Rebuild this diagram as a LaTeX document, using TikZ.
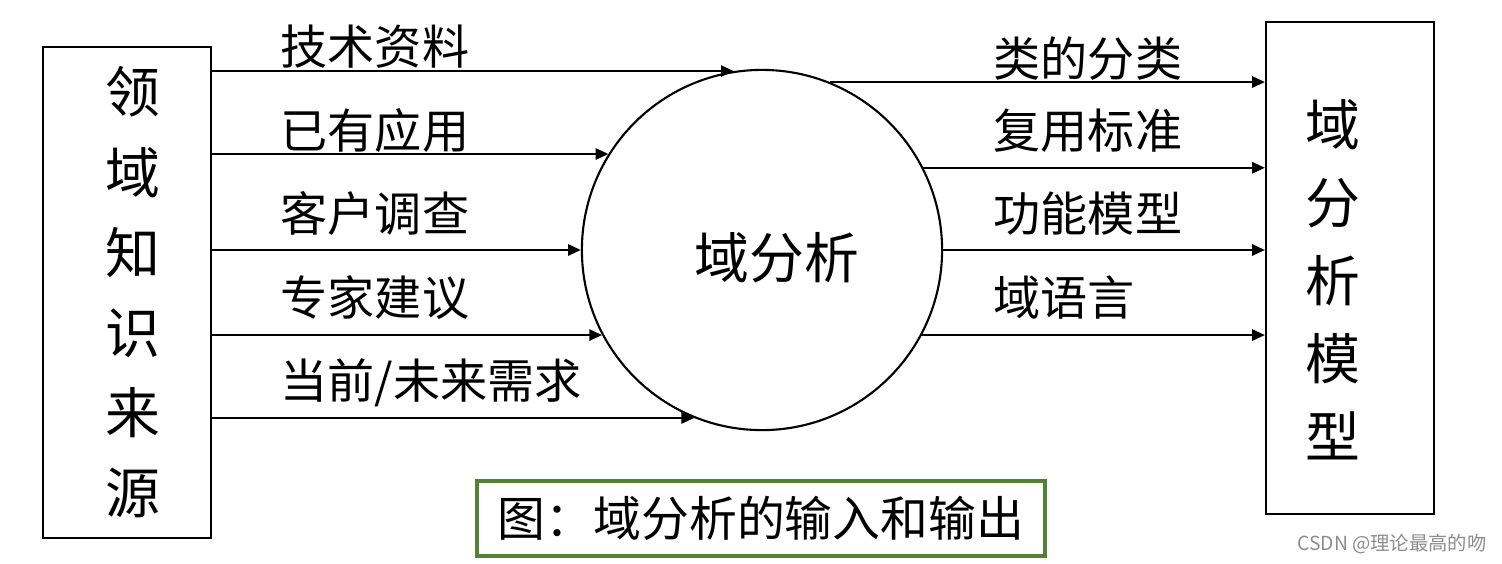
\documentclass[tikz,border=0pt]{standalone}
\usepackage{fontspec}
\setmainfont{Noto Sans CJK SC}
\usepackage{xcolor}
\usepackage{tikz}
\usetikzlibrary{arrows.meta,positioning,calc}
\definecolor{capgreen}{RGB}{84,130,53}

\begin{document}
\begin{tikzpicture}[x=0.01cm, y=-0.01cm,
    srcbox/.style={draw, line width=0.6pt, minimum width=1.68cm, minimum height=4.91cm, inner sep=0pt},
    flow/.style={line width=0.5pt, -{Triangle[length=3.6pt, width=3.2pt]}},
    lbl/.style={anchor=west, inner sep=0pt, font=\fontsize{13.4pt}{14pt}\selectfont},
    big/.style={align=center, inner sep=0pt},
]
\useasboundingbox (0,0) rectangle (1502,563);

\node[srcbox] (lbox) at (127,292.5) {};
\node[big, font=\fontsize{15.6pt}{22.8pt}\selectfont] (ltext) at (133,292.5) {领\\域\\知\\识\\来\\源};

\node[srcbox] (rbox) at (1350,268) {};
\node[big, font=\fontsize{15.6pt}{22.2pt}\selectfont] (rtext) at (1333,280) {域\\分\\析\\模\\型};

\node[draw, circle, line width=0.6pt, minimum size=3.6cm, inner sep=0pt] (circ) at (762,250) {};
\node[big, font=\fontsize{15.6pt}{18pt}\selectfont] (ctext) at (777,258) {域分析};

% inputs
\foreach \a in {99,148,180,208,248}
  \draw[flow] (lbox.east |- circ.\a) -- (circ.\a);
\node[lbl] (in1) at (280,47)  {技术资料};
\node[lbl] (in2) at (280,131) {已有应用};
\node[lbl] (in3) at (280,214) {客户调查};
\node[lbl] (in4) at (280,298) {专家建议};
\node[lbl] (in5) at (280,383) {当前/未来需求};

% outputs
\foreach \a in {68,27.5,0,-28}
  \draw[flow] (circ.\a) -- (circ.\a -| rbox.west);
\node[lbl] (out1) at (993,59)  {类的分类};
\node[lbl] (out2) at (993,131) {复用标准};
\node[lbl] (out3) at (993,214) {功能模型};
\node[lbl] (out4) at (993,298) {域语言};

\node[draw=capgreen, line width=1pt, minimum width=5.68cm, minimum height=0.75cm,
      font=\fontsize{13.6pt}{16pt}\selectfont] (cap) at (761,518.5) {图：域分析的输入和输出};

\node[text=black!45, inner sep=0pt, font=\fontsize{5.5pt}{6pt}\selectfont] (mark) at (1392,544) {CSDN @理论最高的吻};
\end{tikzpicture}
\end{document}
